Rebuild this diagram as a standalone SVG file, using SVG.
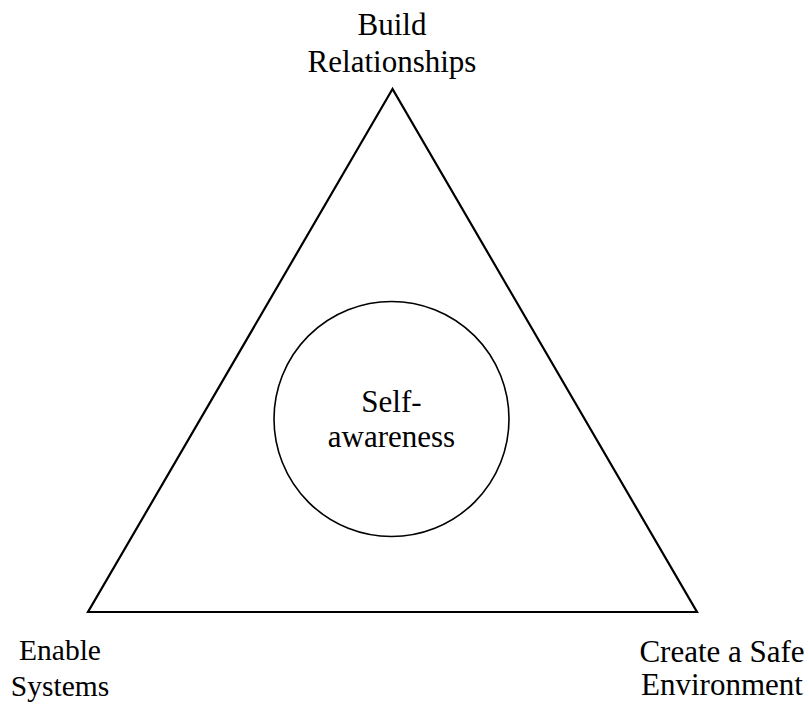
<svg xmlns="http://www.w3.org/2000/svg" width="809" height="705" viewBox="0 0 809 705">
<style>
text{font-family:"Liberation Serif","Times New Roman",serif;font-size:31px;fill:#000;text-anchor:middle}
.small{font-size:29.5px}
.shape{fill:none;stroke:#000}
</style>
<rect width="809" height="705" fill="#fff"/>
<g id="connectors">
<polygon id="triangle" class="shape" stroke-width="2.2" stroke-linejoin="miter" points="392.5,89 88,612 697,612"/>
</g>
<g id="node-self">
<circle class="shape" stroke-width="1.6" cx="391.5" cy="419" r="117.5"/>
<text x="391.5" y="412">Self-</text>
<text x="391.5" y="447">awareness</text>
</g>
<g id="node-build">
<text x="392" y="35">Build</text>
<text x="392" y="72">Relationships</text>
</g>
<g id="node-enable">
<text class="small" x="60" y="660">Enable</text>
<text class="small" x="60" y="696">Systems</text>
</g>
<g id="node-safe">
<text x="722" y="662">Create a Safe</text>
<text x="722" y="695">Environment</text>
</g>
</svg>
